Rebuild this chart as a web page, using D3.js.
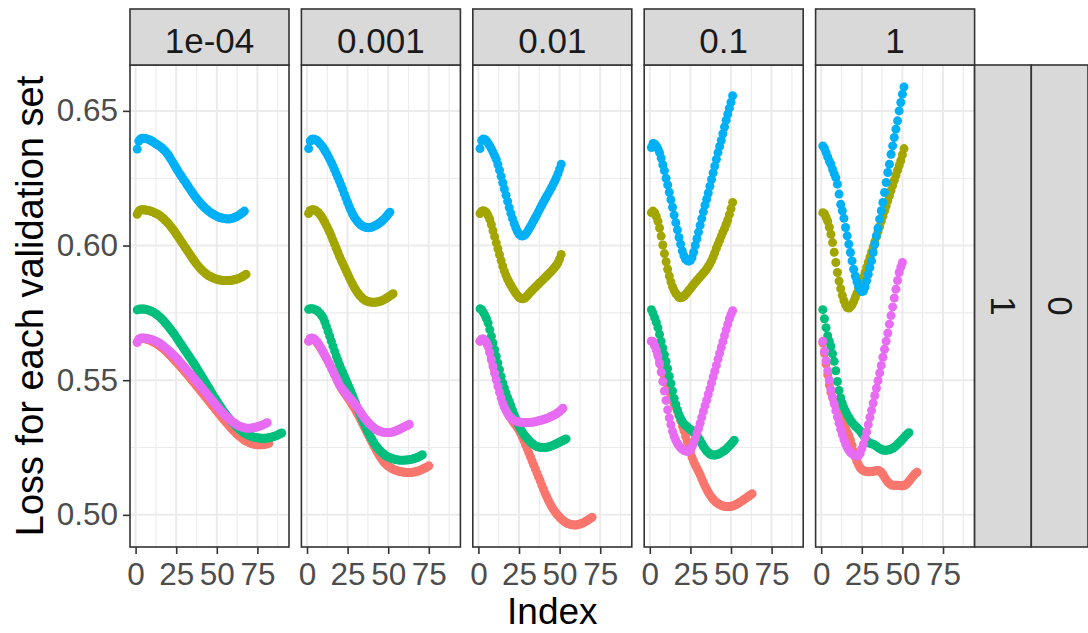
<!DOCTYPE html>
<html>
<head>
<meta charset="utf-8">
<script src="https://cdn.jsdelivr.net/npm/d3@7"></script>
<style>
  body { margin: 0; background: #ffffff; }
  svg { display: block; }
  text { font-family: "Liberation Sans", Arial, sans-serif; }
</style>
</head>
<body>
<svg id="chart"></svg>
<script>
// facet columns / rows
const lambdas = ["1e-04", "0.001", "0.01", "0.1", "1"];
const rowLabels = ["1", "0"];
const setColors = ["#F8766D", "#A3A500", "#00BF7D", "#00B0F6", "#E76BF3"];
const xTicks = [0, 25, 50, 75];
const xMinor = [12.5, 37.5, 62.5, 87.5];
const yTicks = [0.50, 0.55, 0.60, 0.65];
const yMinor = [0.525, 0.575, 0.625];

// loss for each validation set, point i is Index i+1
// lambda = 1e-04
const p1Red = [0.5641,0.5651,0.5655,0.5656,0.5655,0.5654,0.5652,0.565,0.5648,0.5645,
  0.5642,0.5639,0.5635,0.5631,0.5627,0.5622,0.5617,0.5612,0.5606,0.56,
  0.5594,0.5588,0.5581,0.5575,0.5568,0.5562,0.5555,0.5548,0.5541,0.5534,
  0.5527,0.552,0.5513,0.5505,0.5498,0.5491,0.5483,0.5476,0.5468,0.5461,
  0.5453,0.5446,0.5438,0.5431,0.5423,0.5416,0.5408,0.5401,0.5393,0.5386,
  0.5378,0.5371,0.5363,0.5356,0.5349,0.5342,0.5335,0.5328,0.5321,0.5315,
  0.5309,0.5303,0.5297,0.5292,0.5287,0.5282,0.5278,0.5274,0.5271,0.5268,
  0.5266,0.5264,0.5262,0.5261,0.526,0.526,0.526,0.526,0.5261,0.5262,
  0.5264,0.5266];
const p1Olive = [0.6116,0.6128,0.6132,0.6133,0.6133,0.6132,0.6131,0.613,0.6128,0.6126,
  0.6124,0.6121,0.6118,0.6115,0.6111,0.6106,0.6101,0.6095,0.6089,0.6083,
  0.6076,0.6068,0.606,0.6052,0.6043,0.6034,0.6025,0.6016,0.6007,0.5998,
  0.5989,0.598,0.5971,0.5962,0.5953,0.5944,0.5936,0.5928,0.5921,0.5914,
  0.5908,0.5902,0.5897,0.5892,0.5888,0.5885,0.5882,0.5879,0.5877,0.5875,
  0.5873,0.5872,0.5871,0.587,0.587,0.587,0.587,0.587,0.5871,0.5872,
  0.5873,0.5875,0.5877,0.5879,0.5882,0.5885,0.5889,0.5893];
const p1Green = [0.5761,0.5763,0.5764,0.5764,0.5764,0.5763,0.5762,0.576,0.5758,0.5755,
  0.5752,0.5748,0.5744,0.5739,0.5734,0.5728,0.5722,0.5715,0.5708,0.5701,
  0.5693,0.5685,0.5677,0.5669,0.566,0.5651,0.5642,0.5633,0.5624,0.5615,
  0.5606,0.5597,0.5588,0.5579,0.557,0.5561,0.5552,0.5542,0.5532,0.5522,
  0.5512,0.5502,0.5492,0.5482,0.5472,0.5462,0.5452,0.5442,0.5432,0.5423,
  0.5413,0.5404,0.5395,0.5386,0.5378,0.537,0.5362,0.5355,0.5348,0.5341,
  0.5335,0.5329,0.5323,0.5318,0.5313,0.5308,0.5304,0.53,0.5297,0.5294,
  0.5292,0.529,0.5288,0.5287,0.5286,0.5285,0.5284,0.5284,0.5284,0.5284,
  0.5285,0.5286,0.5287,0.5289,0.5291,0.5293,0.5295,0.5298,0.5301,0.5304];
const p1Blue = [0.6358,0.6388,0.6396,0.6398,0.6398,0.6397,0.6396,0.6394,0.6391,0.6388,
  0.6384,0.638,0.6376,0.6372,0.6368,0.6363,0.6358,0.6352,0.6345,0.6337,
  0.6328,0.6318,0.6308,0.6298,0.6288,0.6278,0.6268,0.6259,0.625,0.6241,
  0.6232,0.6223,0.6214,0.6205,0.6196,0.6187,0.6179,0.6171,0.6164,0.6157,
  0.615,0.6144,0.6138,0.6133,0.6128,0.6123,0.6119,0.6115,0.6112,0.6109,
  0.6106,0.6104,0.6102,0.6101,0.61,0.6099,0.6099,0.6099,0.61,0.6102,
  0.6104,0.6107,0.611,0.6114,0.6118,0.6123,0.6128];
const p1Pink = [0.5641,0.5652,0.5656,0.5657,0.5657,0.5656,0.5655,0.5654,0.5652,0.565,
  0.5648,0.5646,0.5643,0.564,0.5636,0.5632,0.5627,0.5622,0.5617,0.5612,
  0.5607,0.5601,0.5595,0.5589,0.5583,0.5577,0.557,0.5563,0.5556,0.5549,
  0.5542,0.5535,0.5528,0.5521,0.5514,0.5507,0.55,0.5493,0.5486,0.5478,
  0.5471,0.5463,0.5456,0.5449,0.5441,0.5434,0.5426,0.5419,0.5412,0.5404,
  0.5397,0.539,0.5383,0.5377,0.5371,0.5365,0.5359,0.5354,0.5349,0.5344,
  0.534,0.5336,0.5332,0.5329,0.5327,0.5325,0.5323,0.5322,0.5322,0.5322,
  0.5322,0.5323,0.5324,0.5325,0.5327,0.5329,0.5331,0.5333,0.5336,0.5339,
  0.5342];

// lambda = 0.001
const p2Red = [0.5645,0.5654,0.5655,0.5652,0.5647,0.564,0.5632,0.5623,0.5613,0.5603,
  0.5592,0.5581,0.557,0.5558,0.5546,0.5534,0.5521,0.5508,0.5495,0.5483,
  0.5472,0.5462,0.5453,0.5445,0.5436,0.5427,0.5418,0.5408,0.5398,0.5388,
  0.5377,0.5366,0.5354,0.5342,0.533,0.5318,0.5306,0.5294,0.5282,0.527,
  0.5258,0.5247,0.5236,0.5226,0.5216,0.5207,0.5199,0.5192,0.5186,0.5181,
  0.5177,0.5173,0.517,0.5167,0.5165,0.5163,0.5161,0.516,0.5159,0.5158,
  0.5157,0.5157,0.5157,0.5157,0.5158,0.5159,0.516,0.5162,0.5164,0.5166,
  0.5169,0.5172,0.5175,0.5178,0.5182];
const p2Olive = [0.6119,0.613,0.6133,0.6133,0.6131,0.6127,0.6122,0.6115,0.6107,0.6097,
  0.6086,0.6074,0.6062,0.6049,0.6035,0.602,0.6005,0.599,0.5975,0.596,
  0.5947,0.5934,0.5921,0.5908,0.5895,0.5882,0.5869,0.5857,0.5846,0.5836,
  0.5827,0.5818,0.5811,0.5805,0.58,0.5796,0.5793,0.5791,0.579,0.5789,
  0.5789,0.5789,0.579,0.5791,0.5793,0.5795,0.5798,0.5801,0.5805,0.5809,
  0.5813,0.5817,0.5821];
const p2Green = [0.5763,0.5765,0.5765,0.5764,0.5762,0.5759,0.5754,0.5748,0.574,0.5731,
  0.5716,0.5699,0.5681,0.5663,0.5645,0.5626,0.5608,0.559,0.5574,0.5558,
  0.5543,0.5529,0.5515,0.5501,0.5487,0.5473,0.5459,0.5444,0.5429,0.5414,
  0.5399,0.5384,0.5369,0.5355,0.5341,0.5328,0.5315,0.5303,0.5291,0.528,
  0.527,0.526,0.5252,0.5245,0.5238,0.5232,0.5227,0.5222,0.5218,0.5215,
  0.5212,0.521,0.5208,0.5206,0.5205,0.5204,0.5203,0.5203,0.5203,0.5203,
  0.5204,0.5204,0.5205,0.5206,0.5207,0.5209,0.5211,0.5213,0.5216,0.5219,
  0.5223];
const p2Blue = [0.636,0.6388,0.6395,0.6396,0.6394,0.639,0.6385,0.6378,0.6371,0.6363,
  0.6353,0.6343,0.6332,0.632,0.6308,0.6295,0.6281,0.6267,0.6253,0.6239,
  0.6224,0.6208,0.6192,0.6176,0.616,0.6145,0.6131,0.6118,0.6107,0.6098,
  0.609,0.6083,0.6077,0.6073,0.607,0.6068,0.6067,0.6066,0.6067,0.6069,
  0.6071,0.6074,0.6077,0.6081,0.6085,0.609,0.6096,0.6102,0.6109,0.6116,
  0.6124];
const p2Pink = [0.5645,0.5655,0.5657,0.5655,0.565,0.5644,0.5636,0.5626,0.5616,0.5605,
  0.5594,0.5582,0.557,0.5558,0.5545,0.5533,0.552,0.5508,0.5495,0.5483,
  0.5474,0.5466,0.5458,0.545,0.5443,0.5436,0.5429,0.5422,0.5415,0.5407,
  0.5399,0.539,0.5381,0.5372,0.5363,0.5355,0.5348,0.5341,0.5335,0.5329,
  0.5324,0.5319,0.5315,0.5312,0.531,0.5308,0.5307,0.5306,0.5306,0.5306,
  0.5306,0.5307,0.5308,0.531,0.5312,0.5315,0.5318,0.5321,0.5324,0.5327,
  0.533,0.5333,0.5336];

// lambda = 0.01
const p3Red = [0.5645,0.5652,0.5652,0.5647,0.5638,0.5625,0.5605,0.5583,0.556,0.5537,
  0.5514,0.5491,0.5469,0.5448,0.5428,0.541,0.5394,0.538,0.5368,0.5358,
  0.5349,0.5341,0.5333,0.5324,0.5315,0.5303,0.529,0.5276,0.5261,0.5246,
  0.5231,0.5216,0.5201,0.5186,0.5171,0.5156,0.5141,0.5127,0.5111,0.5096,
  0.5081,0.5068,0.5055,0.5043,0.5032,0.5022,0.5013,0.5005,0.4998,0.4991,
  0.4985,0.498,0.4975,0.4971,0.4968,0.4966,0.4964,0.4963,0.4962,0.4962,
  0.4963,0.4965,0.4967,0.4969,0.4972,0.4975,0.4979,0.4983,0.4987,0.4991];
const p3Olive = [0.6119,0.6127,0.6129,0.6127,0.6122,0.6111,0.6097,0.6077,0.6055,0.6033,
  0.601,0.5988,0.5966,0.5944,0.5923,0.5905,0.5889,0.5875,0.5863,0.5852,
  0.5842,0.5832,0.5823,0.5815,0.5808,0.5804,0.5802,0.5803,0.5807,0.5813,
  0.582,0.5827,0.5833,0.5839,0.5845,0.5851,0.5857,0.5863,0.5869,0.5875,
  0.5881,0.5887,0.5893,0.5899,0.5905,0.5912,0.5919,0.5927,0.5936,0.595,
  0.5967];
const p3Green = [0.5765,0.5762,0.5752,0.5741,0.5728,0.5712,0.5688,0.5663,0.5638,0.5613,
  0.5589,0.5564,0.5539,0.5514,0.549,0.5471,0.5453,0.5436,0.5421,0.5405,
  0.5389,0.5373,0.5357,0.5342,0.5329,0.5318,0.5308,0.5299,0.5291,0.5284,
  0.5277,0.5271,0.5266,0.5261,0.5257,0.5254,0.5252,0.5251,0.525,0.525,
  0.525,0.5251,0.5252,0.5254,0.5256,0.5258,0.5261,0.5264,0.5267,0.527,
  0.5273,0.5276,0.5279,0.5282];
const p3Blue = [0.636,0.639,0.6396,0.6394,0.6388,0.638,0.637,0.6359,0.6347,0.6334,
  0.632,0.6301,0.628,0.6257,0.6233,0.621,0.6187,0.6164,0.6141,0.612,
  0.61,0.6082,0.6066,0.6053,0.6043,0.6037,0.6035,0.6037,0.6042,0.605,
  0.606,0.607,0.6081,0.6092,0.6103,0.6114,0.6126,0.6138,0.615,0.6161,
  0.6172,0.6183,0.6193,0.6204,0.6215,0.6227,0.6239,0.6252,0.6267,0.6284,
  0.6302];
const p3Pink = [0.5645,0.5652,0.5653,0.5648,0.5639,0.5626,0.5602,0.5576,0.5551,0.5526,
  0.5501,0.5477,0.5455,0.5434,0.5415,0.54,0.5387,0.5376,0.5367,0.536,
  0.5355,0.5351,0.5348,0.5346,0.5345,0.5344,0.5343,0.5343,0.5343,0.5343,
  0.5343,0.5343,0.5344,0.5345,0.5346,0.5347,0.5349,0.535,0.5352,0.5354,
  0.5356,0.5358,0.536,0.5363,0.5366,0.5369,0.5372,0.5375,0.5379,0.5384,
  0.539,0.5396];

// lambda = 0.1
const p4Red = [0.5645,0.5642,0.563,0.5614,0.5596,0.5575,0.5555,0.5535,0.5515,0.5495,
  0.5475,0.5457,0.544,0.5425,0.5412,0.54,0.5385,0.5368,0.535,0.533,
  0.5312,0.5293,0.5273,0.5253,0.5232,0.5214,0.5198,0.5185,0.5173,0.5161,
  0.5149,0.5134,0.512,0.5107,0.5095,0.5084,0.5074,0.5066,0.5058,0.5052,
  0.5046,0.5042,0.5038,0.5035,0.5033,0.5032,0.5031,0.5031,0.5031,0.5032,
  0.5033,0.5035,0.5038,0.5041,0.5045,0.5049,0.5052,0.5057,0.5061,0.5066,
  0.507,0.5074,0.5078];
const p4Olive = [0.6122,0.6128,0.6122,0.6108,0.609,0.6065,0.6035,0.6002,0.597,0.594,
  0.5912,0.5887,0.5865,0.5847,0.5833,0.5822,0.5815,0.5808,0.5806,0.5808,
  0.5812,0.5818,0.5825,0.5833,0.584,0.5848,0.5856,0.5863,0.587,0.5877,
  0.5884,0.5891,0.5898,0.5905,0.5913,0.5922,0.5932,0.5944,0.5958,0.5973,
  0.599,0.6005,0.602,0.6035,0.605,0.6063,0.6078,0.6095,0.6115,0.6137,
  0.616];
const p4Green = [0.5762,0.5748,0.5732,0.5715,0.5695,0.567,0.5645,0.562,0.5595,0.557,
  0.5543,0.5515,0.5488,0.546,0.5432,0.541,0.539,0.5372,0.5358,0.5347,
  0.5338,0.5332,0.5327,0.5322,0.5317,0.5312,0.5306,0.53,0.5294,0.5286,
  0.5276,0.5265,0.5254,0.5245,0.5237,0.5231,0.5226,0.5223,0.5222,0.5222,
  0.5223,0.5225,0.5228,0.5231,0.5235,0.5239,0.5244,0.525,0.5256,0.5263,
  0.527,0.5277];
const p4Blue = [0.6364,0.6379,0.6377,0.637,0.636,0.6345,0.6325,0.63,0.6278,0.625,
  0.6225,0.6198,0.617,0.6142,0.6113,0.6085,0.6058,0.603,0.6005,0.598,
  0.5962,0.595,0.5944,0.5942,0.5945,0.5955,0.5975,0.6,0.6025,0.605,
  0.6075,0.61,0.6125,0.615,0.6172,0.6195,0.622,0.6245,0.627,0.6295,
  0.632,0.6345,0.6368,0.639,0.6415,0.644,0.6465,0.6488,0.651,0.6532,
  0.6556];
const p4Pink = [0.5645,0.5643,0.5628,0.5612,0.559,0.5562,0.553,0.5495,0.546,0.5425,
  0.539,0.536,0.5335,0.531,0.5292,0.5277,0.5265,0.5256,0.5249,0.5244,
  0.524,0.5237,0.5236,0.5237,0.5242,0.5252,0.5266,0.5283,0.5302,0.532,
  0.534,0.5362,0.5384,0.5405,0.5425,0.5447,0.5468,0.549,0.5512,0.5533,
  0.5555,0.5578,0.56,0.5622,0.5643,0.5665,0.5687,0.5708,0.5728,0.5745,
  0.5758];

// lambda = 1
const p5Red = [0.5638,0.56,0.556,0.552,0.5482,0.5455,0.5435,0.542,0.5405,0.539,
  0.5375,0.536,0.5345,0.5332,0.532,0.5308,0.5295,0.5278,0.5258,0.5236,
  0.5215,0.5198,0.5185,0.5175,0.5168,0.5164,0.5162,0.5161,0.516,0.516,
  0.5161,0.5162,0.5163,0.5164,0.5165,0.5163,0.5158,0.515,0.514,0.513,
  0.5122,0.5116,0.5112,0.511,0.511,0.511,0.511,0.5109,0.5108,0.5108,
  0.5109,0.5112,0.5117,0.5124,0.5132,0.514,0.5147,0.5153,0.5158];
const p5Olive = [0.6122,0.6118,0.6105,0.609,0.6068,0.6042,0.6011,0.5975,0.5937,0.59,
  0.5868,0.584,0.5815,0.5795,0.578,0.577,0.5768,0.5772,0.578,0.5792,
  0.5807,0.5823,0.584,0.5855,0.5868,0.5882,0.59,0.5919,0.5938,0.5957,
  0.5976,0.5995,0.6014,0.6033,0.6052,0.6071,0.609,0.6109,0.6128,0.6147,
  0.6166,0.6185,0.6204,0.6223,0.6242,0.626,0.6279,0.6297,0.6315,0.6337,
  0.636];
const p5Green = [0.5762,0.5728,0.5695,0.5665,0.5645,0.5625,0.5598,0.557,0.5535,0.5495,
  0.5462,0.5435,0.5415,0.5398,0.5385,0.5372,0.5362,0.5352,0.5343,0.5336,
  0.533,0.5324,0.5318,0.5311,0.5303,0.5295,0.5285,0.5277,0.527,0.5266,
  0.5264,0.5262,0.5259,0.5255,0.525,0.5246,0.5243,0.5241,0.524,0.524,
  0.5241,0.5242,0.5244,0.5247,0.5251,0.5256,0.5262,0.5268,0.5274,0.528,
  0.5287,0.5294,0.53,0.5305];
const p5Blue = [0.637,0.6361,0.6345,0.6329,0.6314,0.6302,0.6283,0.6267,0.6252,0.6228,
  0.6191,0.6153,0.6129,0.6101,0.6067,0.6036,0.6005,0.5974,0.5943,0.5912,
  0.5887,0.5866,0.585,0.5838,0.5829,0.5831,0.5846,0.5869,0.5893,0.5918,
  0.5943,0.5974,0.6005,0.6036,0.6064,0.6098,0.6129,0.616,0.6197,0.6234,
  0.6271,0.6302,0.6339,0.637,0.6401,0.6432,0.6463,0.65,0.6531,0.6562,
  0.6589];
const p5Pink = [0.5645,0.5608,0.5572,0.5535,0.55,0.5465,0.5438,0.5412,0.5387,0.5363,
  0.534,0.5318,0.5298,0.528,0.5264,0.525,0.524,0.5232,0.5227,0.5223,
  0.522,0.5218,0.522,0.5228,0.5245,0.5262,0.5285,0.5308,0.5335,0.5362,
  0.5388,0.5415,0.5443,0.547,0.5498,0.5527,0.5555,0.5585,0.5615,0.5645,
  0.5675,0.5708,0.574,0.5772,0.5805,0.5838,0.587,0.59,0.592,0.5937];

// one entry per facet column, sets in colour order (red drawn first, pink last)
const panels = [
  [p1Red, p1Olive, p1Green, p1Blue, p1Pink],
  [p2Red, p2Olive, p2Green, p2Blue, p2Pink],
  [p3Red, p3Olive, p3Green, p3Blue, p3Pink],
  [p4Red, p4Olive, p4Green, p4Blue, p4Pink],
  [p5Red, p5Olive, p5Green, p5Blue, p5Pink]
];

// ---- layout ----
const width = 1088, height = 633;
const panelLeft = 130, panelTop = 65;
const panelW = 159, panelH = 482, panelGap = 12.4;
const stripH = 56, stripW = 56.7;
const gridCol = "#EBEBEB", borderCol = "#333333", stripFill = "#D9D9D9";

const svg = d3.select("#chart")
    .attr("width", width)
    .attr("height", height);

svg.append("rect").attr("width", width).attr("height", height).attr("fill", "#ffffff");

// shared scales, ggplot style 5% expansion
const allVals = panels.flat(2);
const maxIndex = d3.max(panels.flat(), s => s.length);
const xr = maxIndex - 1;
const x = d3.scaleLinear().domain([1 - 0.05 * xr, maxIndex + 0.05 * xr]).range([0, panelW]);
const [yLo, yHi] = d3.extent(allVals);
const yr = yHi - yLo;
const y = d3.scaleLinear().domain([yLo - 0.05 * yr, yHi + 0.05 * yr]).range([panelH, 0]);

panels.forEach((sets, p) => {
    const px = panelLeft + p * (panelW + panelGap);
    const g = svg.append("g").attr("transform", `translate(${px},${panelTop})`);

    g.append("rect").attr("width", panelW).attr("height", panelH).attr("fill", "#ffffff");

    // minor grid
    g.selectAll("line.xminor").data(xMinor.filter(v => x(v) < panelW)).enter().append("line")
        .attr("x1", d => x(d)).attr("x2", d => x(d)).attr("y1", 0).attr("y2", panelH)
        .attr("stroke", gridCol).attr("stroke-width", 1.1);
    g.selectAll("line.yminor").data(yMinor).enter().append("line")
        .attr("y1", d => y(d)).attr("y2", d => y(d)).attr("x1", 0).attr("x2", panelW)
        .attr("stroke", gridCol).attr("stroke-width", 1.1);
    // major grid
    g.selectAll("line.xmajor").data(xTicks).enter().append("line")
        .attr("x1", d => x(d)).attr("x2", d => x(d)).attr("y1", 0).attr("y2", panelH)
        .attr("stroke", gridCol).attr("stroke-width", 2);
    g.selectAll("line.ymajor").data(yTicks).enter().append("line")
        .attr("y1", d => y(d)).attr("y2", d => y(d)).attr("x1", 0).attr("x2", panelW)
        .attr("stroke", gridCol).attr("stroke-width", 2);

    // points
    sets.forEach((vals, s) => {
        g.append("g").selectAll("circle").data(vals).enter().append("circle")
            .attr("cx", (d, i) => x(i + 1))
            .attr("cy", d => y(d))
            .attr("r", 4.5)
            .attr("fill", setColors[s]);
    });

    // border
    g.append("rect").attr("width", panelW).attr("height", panelH)
        .attr("fill", "none").attr("stroke", borderCol).attr("stroke-width", 1.6);

    // x axis
    const xAxis = g.append("g").attr("transform", `translate(0,${panelH})`)
        .call(d3.axisBottom(x).tickValues(xTicks).tickSize(7).tickPadding(9));
    xAxis.select(".domain").remove();
    xAxis.selectAll("line").attr("stroke", borderCol).attr("stroke-width", 1.6);
    xAxis.selectAll("text").attr("fill", "#4D4D4D").attr("font-size", 31.5)
        .style("font-family", "'Liberation Sans', Arial, sans-serif");

    // column strip
    const strip = svg.append("g").attr("transform", `translate(${px},${panelTop - stripH})`);
    strip.append("rect").attr("width", panelW).attr("height", stripH)
        .attr("fill", stripFill).attr("stroke", borderCol).attr("stroke-width", 1.6);
    strip.append("text").attr("x", panelW / 2).attr("y", 44)
        .attr("text-anchor", "middle").attr("font-size", 35).attr("fill", "#1A1A1A")
        .text(lambdas[p]);

    // y axis on the first panel only
    if (p === 0) {
        const yAxis = g.append("g")
            .call(d3.axisLeft(y).tickValues(yTicks).tickSize(7).tickPadding(5).tickFormat(d3.format(".2f")));
        yAxis.select(".domain").remove();
        yAxis.selectAll("line").attr("stroke", borderCol).attr("stroke-width", 1.6);
        yAxis.selectAll("text").attr("fill", "#4D4D4D").attr("font-size", 31.5)
            .style("font-family", "'Liberation Sans', Arial, sans-serif");
    }
});

// row strips on the right
const stripLeft = panelLeft + lambdas.length * panelW + (lambdas.length - 1) * panelGap;
rowLabels.forEach((lab, r) => {
    const sx = stripLeft + r * stripW;
    svg.append("rect").attr("x", sx).attr("y", panelTop).attr("width", stripW).attr("height", panelH)
        .attr("fill", stripFill).attr("stroke", borderCol).attr("stroke-width", 1.6);
    svg.append("text")
        .attr("transform", `translate(${sx + stripW / 2 - 12},${panelTop + panelH / 2}) rotate(90)`)
        .attr("text-anchor", "middle").attr("font-size", 35).attr("fill", "#1A1A1A")
        .text(lab);
});

// axis titles
svg.append("text")
    .attr("x", panelLeft + (stripLeft - panelLeft) / 2).attr("y", 624)
    .attr("text-anchor", "middle").attr("font-size", 37).attr("fill", "#000000")
    .text("Index");

svg.append("text")
    .attr("transform", `translate(43,${panelTop + panelH / 2}) rotate(-90)`)
    .attr("text-anchor", "middle").attr("font-size", 38).attr("fill", "#000000")
    .text("Loss for each validation set");
</script>
</body>
</html>
